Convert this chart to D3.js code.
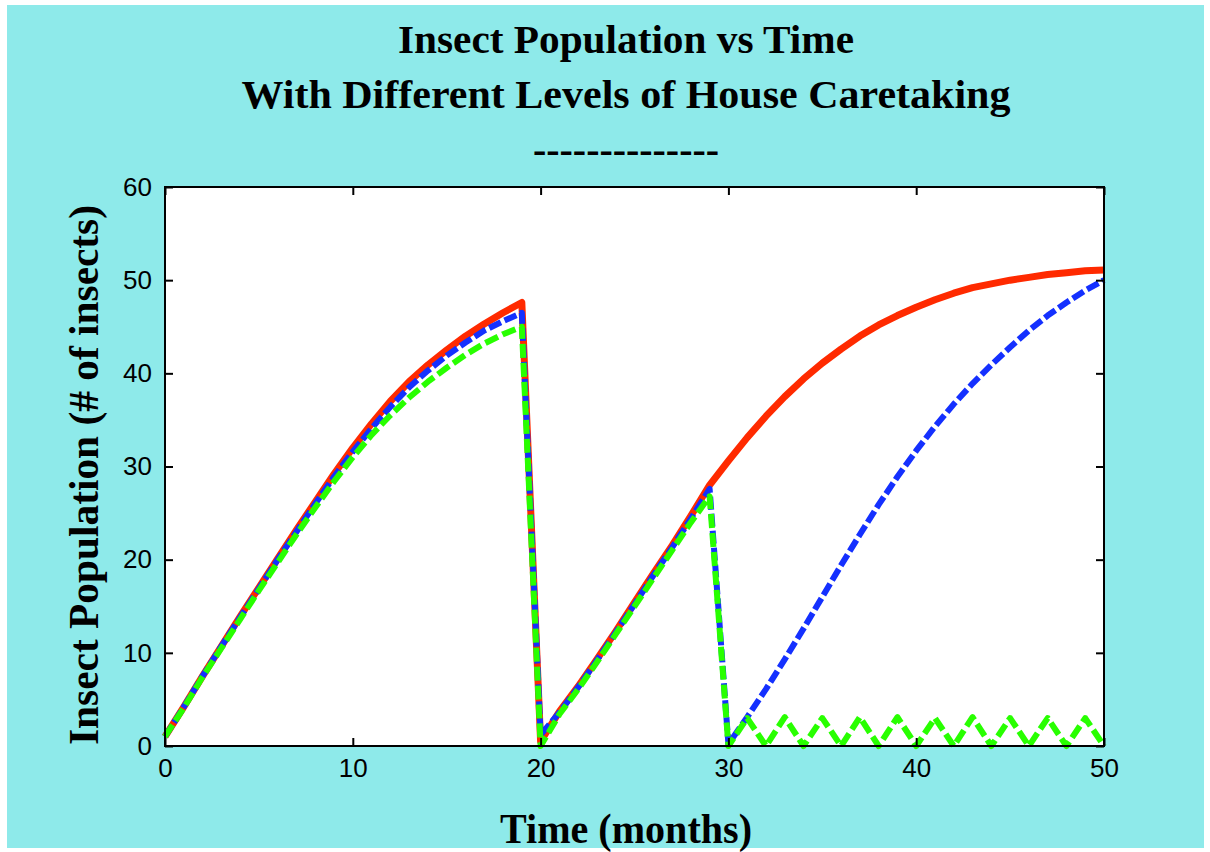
<!DOCTYPE html>
<html><head><meta charset="utf-8">
<script src="https://cdn.jsdelivr.net/npm/d3@7"></script>
<style>body{margin:0;background:#fff} svg{display:block}</style>
</head><body><svg id="c" width="1210" height="852"></svg>
<script>
// ---- data ----
const months = [0,1,2,3,4,5,6,7,8,9,10,11,12,13,14,15,16,17,18,19,20,21,22,23,24,25,26,27,28,29,30,31,32,33,34,35,36,37,38,39,40,41,42,43,44,45,46,47,48,49,50];
const redSeries = [1.0,4.2,7.5,10.7,13.9,17.0,20.1,23.2,26.2,29.2,32.0,34.6,37.0,39.1,40.9,42.5,44.0,45.3,46.5,47.6,
  0.5,3.7,6.4,9.3,12.3,15.4,18.5,21.5,24.7,28.0,
  30.6,33.1,35.4,37.5,39.4,41.1,42.6,44.0,45.2,46.2,47.1,47.9,48.6,49.2,49.6,50.0,50.3,50.6,50.8,51.0,51.1];
const blueSeries = [1.0,4.2,7.5,10.7,13.8,16.9,20.0,23.0,26.0,28.9,31.6,34.1,36.4,38.5,40.3,41.9,43.3,44.6,45.6,46.5,
  1.2,3.6,6.3,9.2,12.2,15.2,18.3,21.3,24.4,27.6,
  0.2,3.1,6.1,9.3,12.6,16.0,19.4,22.7,25.9,28.9,31.7,34.3,36.7,38.9,40.9,42.8,44.6,46.2,47.6,48.9,50.0];
const greenSeries = [1.0,4.1,7.4,10.5,13.6,16.7,19.7,22.7,25.6,28.4,31.0,33.4,35.5,37.4,39.1,40.6,42.0,43.2,44.2,45.0,
  0.0,3.4,6.1,9.0,12.0,15.0,18.0,21.0,24.0,26.8,
  0.0,3.0,0.0,3.1,0.0,3.0,0.0,3.1,0.0,3.1,0.0,3.0,0.0,3.1,0.0,3.0,0.0,3.0,0.0,3.0,0.0];
const xTicks = [0,10,20,30,40,50];
const yTicks = [0,10,20,30,40,50,60];
const titleLines = ["Insect Population vs Time", "With Different Levels of House Caretaking", "--------------"];
const xLabel = "Time (months)";
const yLabel = "Insect Population (# of insects)";

// ---- layout ----
const svg = d3.select("#c");
const L = 165, R = 1104, T = 187, B = 746;
const serif = "'Liberation Serif','Times New Roman',serif";
const sans = "'Liberation Sans',Arial,sans-serif";

svg.append("rect").attr("x",7).attr("y",5).attr("width",1197).attr("height",843).attr("fill","#8eeaea");
svg.append("rect").attr("x",L).attr("y",T).attr("width",R-L).attr("height",B-T).attr("fill","#fff");

const x = d3.scaleLinear().domain([0,50]).range([L,R]);
const y = d3.scaleLinear().domain([0,60]).range([B,T]);

// titles
const titleY = [53,108,163];
const titleW = [456,769,186];
titleLines.forEach((t,i)=>{
  svg.append("text").attr("x",626).attr("y",titleY[i]).attr("text-anchor","middle")
    .attr("font-family",serif).attr("font-weight","bold").attr("font-size",41)
    .attr("textLength",titleW[i]).attr("lengthAdjust","spacingAndGlyphs").text(t);
});

// series
const line = d3.line().x((d,i)=>x(months[i])).y(d=>y(d));
const series = [
  {v: redSeries, c:"#ff2a00", w:7, dash:null},
  {v: blueSeries, c:"#1430ff", w:6, dash:"13,4"},
  {v: greenSeries, c:"#28ff00", w:6, dash:"14,5"}
];
const g = svg.append("g");
series.forEach(s=>{
  g.append("path").attr("d", line(s.v)).attr("fill","none").attr("stroke",s.c)
   .attr("stroke-width",s.w).attr("stroke-dasharray",s.dash).attr("stroke-linejoin","round");
});

// axes
const tk = 8;
const ax = [
  svg.append("g").attr("transform",`translate(0,${B})`).call(d3.axisBottom(x).tickValues(xTicks).tickSize(-tk).tickPadding(13).tickFormat(d3.format("d"))),
  svg.append("g").attr("transform",`translate(0,${T})`).call(d3.axisTop(x).tickValues(xTicks).tickSize(-tk).tickFormat("")),
  svg.append("g").attr("transform",`translate(${L},0)`).call(d3.axisLeft(y).tickValues(yTicks).tickSize(-tk).tickPadding(13).tickFormat(d3.format("d"))),
  svg.append("g").attr("transform",`translate(${R},0)`).call(d3.axisRight(y).tickValues(yTicks).tickSize(-tk).tickFormat(""))
];
ax.forEach(a=>{
  a.select(".domain").remove();
  a.selectAll("line").attr("stroke","#000").attr("stroke-width",2);
  a.selectAll("text").attr("font-family",sans).attr("font-size",26).attr("fill","#000");
});
svg.append("rect").attr("x",L).attr("y",T).attr("width",R-L).attr("height",B-T)
  .attr("fill","none").attr("stroke","#000").attr("stroke-width",2);

// axis labels
svg.append("text").attr("x",626).attr("y",843).attr("text-anchor","middle")
  .attr("font-family",serif).attr("font-weight","bold").attr("font-size",42)
  .attr("textLength",252).attr("lengthAdjust","spacingAndGlyphs").text(xLabel);
svg.append("text").attr("transform","translate(98,475) rotate(-90)").attr("text-anchor","middle")
  .attr("font-family",serif).attr("font-weight","bold").attr("font-size",42)
  .attr("textLength",540).attr("lengthAdjust","spacingAndGlyphs").text(yLabel);
</script></body></html>
